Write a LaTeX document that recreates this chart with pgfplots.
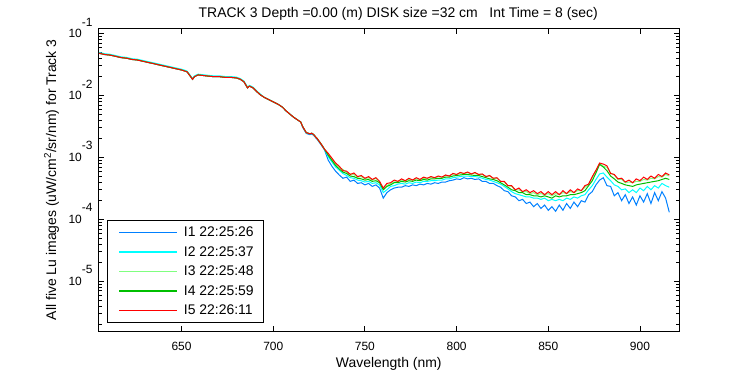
\documentclass[border=0pt]{standalone}
\usepackage{fontspec}
\setmainfont{Liberation Sans}
\usepackage{pgfplots}
\usepackage{pgfplotstable}
\pgfplotsset{compat=1.18}
\definecolor{cIa}{rgb}{0,0.5,1}
\definecolor{cIb}{rgb}{0,1,1}
\definecolor{cIc}{rgb}{0.5,1,0.5}
\definecolor{cId}{rgb}{0,0.75,0}
\definecolor{cIe}{rgb}{1,0,0}
\pgfplotstableread{
x b c lg g r
605 4.79e-2 4.93e-2 4.79e-2 4.79e-2 4.79e-2
608 4.57e-2 4.71e-2 4.57e-2 4.57e-2 4.57e-2
611 4.47e-2 4.60e-2 4.47e-2 4.47e-2 4.47e-2
614 4.27e-2 4.40e-2 4.27e-2 4.27e-2 4.27e-2
617 4.07e-2 4.19e-2 4.07e-2 4.07e-2 4.07e-2
620 3.98e-2 4.10e-2 3.98e-2 3.98e-2 3.98e-2
623 3.80e-2 3.91e-2 3.80e-2 3.80e-2 3.80e-2
626 3.72e-2 3.83e-2 3.72e-2 3.72e-2 3.72e-2
629 3.55e-2 3.66e-2 3.55e-2 3.55e-2 3.55e-2
632 3.39e-2 3.49e-2 3.39e-2 3.39e-2 3.39e-2
635 3.24e-2 3.34e-2 3.24e-2 3.24e-2 3.24e-2
638 3.09e-2 3.18e-2 3.09e-2 3.09e-2 3.09e-2
641 2.95e-2 3.04e-2 2.95e-2 2.95e-2 2.95e-2
644 2.82e-2 2.90e-2 2.82e-2 2.82e-2 2.82e-2
647 2.69e-2 2.77e-2 2.69e-2 2.69e-2 2.69e-2
650 2.57e-2 2.65e-2 2.57e-2 2.57e-2 2.57e-2
653 2.40e-2 2.47e-2 2.40e-2 2.40e-2 2.40e-2
655 2.00e-2 2.06e-2 2.00e-2 2.00e-2 2.00e-2
656 1.82e-2 1.87e-2 1.82e-2 1.82e-2 1.82e-2
657 2.00e-2 2.06e-2 2.00e-2 2.00e-2 2.00e-2
659 2.14e-2 2.20e-2 2.14e-2 2.14e-2 2.14e-2
662 2.09e-2 2.15e-2 2.09e-2 2.09e-2 2.09e-2
665 2.04e-2 2.10e-2 2.04e-2 2.04e-2 2.04e-2
668 2.00e-2 2.06e-2 2.00e-2 2.00e-2 2.00e-2
671 2.00e-2 2.06e-2 2.00e-2 2.00e-2 2.00e-2
674 1.95e-2 2.01e-2 1.95e-2 1.95e-2 1.95e-2
677 1.95e-2 2.01e-2 1.95e-2 1.95e-2 1.95e-2
680 1.91e-2 1.97e-2 1.91e-2 1.91e-2 1.91e-2
682 1.82e-2 1.87e-2 1.82e-2 1.82e-2 1.82e-2
684 1.66e-2 1.71e-2 1.66e-2 1.66e-2 1.66e-2
686 1.32e-2 1.36e-2 1.32e-2 1.32e-2 1.32e-2
687 1.41e-2 1.45e-2 1.41e-2 1.41e-2 1.41e-2
689 1.32e-2 1.36e-2 1.32e-2 1.32e-2 1.32e-2
691 1.15e-2 1.18e-2 1.15e-2 1.15e-2 1.15e-2
693 1.02e-2 1.05e-2 1.02e-2 1.02e-2 1.02e-2
695 9.33e-3 9.33e-3 9.33e-3 9.33e-3 9.33e-3
697 8.71e-3 8.71e-3 8.71e-3 8.71e-3 8.71e-3
699 8.13e-3 8.13e-3 8.13e-3 8.13e-3 8.13e-3
701 7.59e-3 7.59e-3 7.59e-3 7.59e-3 7.59e-3
703 7.08e-3 7.08e-3 7.08e-3 7.08e-3 7.08e-3
705 6.46e-3 6.46e-3 6.46e-3 6.46e-3 6.46e-3
707 5.62e-3 5.62e-3 5.62e-3 5.62e-3 5.62e-3
709 5.01e-3 5.01e-3 5.01e-3 5.01e-3 5.01e-3
711 4.47e-3 4.47e-3 4.47e-3 4.47e-3 4.47e-3
713 4.07e-3 4.07e-3 4.07e-3 4.07e-3 4.07e-3
715 3.72e-3 3.72e-3 3.72e-3 3.72e-3 3.72e-3
716 3.07e-3 3.16e-3 3.16e-3 3.16e-3 3.16e-3
718 2.43e-3 2.51e-3 2.51e-3 2.51e-3 2.51e-3
720 2.33e-3 2.40e-3 2.40e-3 2.40e-3 2.40e-3
721 2.38e-3 2.45e-3 2.45e-3 2.45e-3 2.45e-3
722 2.27e-3 2.34e-3 2.34e-3 2.34e-3 2.34e-3
724 1.94e-3 2.00e-3 2.00e-3 2.00e-3 2.00e-3
726 1.61e-3 1.66e-3 1.66e-3 1.66e-3 1.66e-3
728 1.31e-3 1.35e-3 1.35e-3 1.35e-3 1.35e-3
730 9.0e-4 10.2e-4 11.0e-4 10.8e-4 11.6e-4
732 7.2e-4 8.4e-4 9.2e-4 8.9e-4 9.7e-4
734 6.0e-4 7.0e-4 7.8e-4 7.4e-4 8.1e-4
736 5.2e-4 6.2e-4 6.9e-4 6.5e-4 7.2e-4
738 4.6e-4 5.5e-4 6.4e-4 5.8e-4 6.1e-4
740 4.8e-4 5.1e-4 5.7e-4 5.5e-4 6.0e-4
742 4.1e-4 4.7e-4 5.4e-4 5.0e-4 5.3e-4
744 4.3e-4 4.6e-4 5.3e-4 4.9e-4 5.6e-4
746 3.8e-4 4.3e-4 4.8e-4 4.6e-4 4.9e-4
748 3.9e-4 4.2e-4 4.9e-4 4.5e-4 5.1e-4
750 3.6e-4 4.0e-4 4.5e-4 4.3e-4 4.6e-4
752 3.8e-4 4.1e-4 4.7e-4 4.4e-4 4.9e-4
754 3.4e-4 3.8e-4 4.3e-4 4.1e-4 4.4e-4
756 3.6e-4 3.9e-4 4.6e-4 4.2e-4 4.7e-4
758 3.2e-4 3.6e-4 4.0e-4 3.9e-4 4.1e-4
760 2.2e-4 2.7e-4 3.1e-4 3.0e-4 3.2e-4
762 2.7e-4 3.0e-4 3.5e-4 3.4e-4 3.8e-4
764 3.0e-4 3.4e-4 3.8e-4 3.6e-4 3.9e-4
766 3.2e-4 3.5e-4 4.0e-4 3.9e-4 4.3e-4
768 3.3e-4 3.7e-4 4.1e-4 3.9e-4 4.1e-4
770 3.3e-4 3.8e-4 4.3e-4 4.1e-4 4.5e-4
772 3.5e-4 3.7e-4 4.2e-4 4.0e-4 4.2e-4
774 3.4e-4 3.9e-4 4.4e-4 4.2e-4 4.6e-4
776 3.6e-4 3.8e-4 4.3e-4 4.1e-4 4.3e-4
778 3.5e-4 4.0e-4 4.5e-4 4.3e-4 4.7e-4
780 3.7e-4 3.9e-4 4.4e-4 4.2e-4 4.4e-4
782 3.6e-4 4.1e-4 4.6e-4 4.4e-4 4.8e-4
784 3.8e-4 4.1e-4 4.6e-4 4.3e-4 4.6e-4
786 3.7e-4 4.2e-4 4.8e-4 4.5e-4 4.9e-4
788 3.9e-4 4.2e-4 4.7e-4 4.5e-4 4.7e-4
790 3.8e-4 4.3e-4 4.9e-4 4.6e-4 5.0e-4
792 4.0e-4 4.3e-4 4.8e-4 4.6e-4 4.8e-4
794 4.0e-4 4.5e-4 5.1e-4 4.8e-4 5.2e-4
796 4.2e-4 4.5e-4 5.0e-4 4.8e-4 5.0e-4
798 4.3e-4 4.7e-4 5.4e-4 5.0e-4 5.5e-4
800 4.5e-4 4.8e-4 5.3e-4 5.1e-4 5.3e-4
802 4.4e-4 4.9e-4 5.6e-4 5.2e-4 5.7e-4
804 4.7e-4 5.0e-4 5.5e-4 5.3e-4 5.5e-4
806 4.5e-4 5.0e-4 5.7e-4 5.3e-4 5.8e-4
808 4.6e-4 4.9e-4 5.4e-4 5.2e-4 5.4e-4
810 4.4e-4 4.9e-4 5.6e-4 5.1e-4 5.7e-4
812 4.5e-4 4.8e-4 5.3e-4 5.1e-4 5.3e-4
814 4.1e-4 4.6e-4 5.3e-4 4.9e-4 5.4e-4
816 4.1e-4 4.4e-4 4.9e-4 4.7e-4 4.9e-4
818 3.8e-4 4.3e-4 5.0e-4 4.5e-4 5.1e-4
820 3.8e-4 4.1e-4 4.6e-4 4.4e-4 4.6e-4
822 3.5e-4 3.9e-4 4.6e-4 4.2e-4 4.7e-4
824 3.3e-4 3.7e-4 4.1e-4 3.9e-4 4.1e-4
826 2.9e-4 3.4e-4 4.0e-4 3.6e-4 4.1e-4
828 2.8e-4 3.1e-4 3.5e-4 3.3e-4 3.5e-4
830 2.4e-4 2.8e-4 3.4e-4 3.0e-4 3.5e-4
832 2.3e-4 2.6e-4 3.0e-4 2.9e-4 3.0e-4
834 2.0e-4 2.5e-4 3.0e-4 2.7e-4 3.2e-4
836 2.1e-4 2.4e-4 2.8e-4 2.7e-4 2.8e-4
838 1.8e-4 2.3e-4 2.8e-4 2.5e-4 3.0e-4
840 1.9e-4 2.3e-4 2.6e-4 2.5e-4 2.7e-4
842 1.6e-4 2.2e-4 2.7e-4 2.4e-4 2.9e-4
844 1.8e-4 2.2e-4 2.5e-4 2.4e-4 2.6e-4
846 1.5e-4 2.1e-4 2.6e-4 2.3e-4 2.8e-4
848 1.7e-4 2.2e-4 2.5e-4 2.4e-4 2.5e-4
850 1.4e-4 2.0e-4 2.6e-4 2.3e-4 2.8e-4
852 1.6e-4 2.1e-4 2.4e-4 2.2e-4 2.5e-4
854 1.35e-4 2.0e-4 2.6e-4 2.4e-4 2.8e-4
856 1.7e-4 2.1e-4 2.5e-4 2.3e-4 2.5e-4
858 1.4e-4 2.0e-4 2.7e-4 2.4e-4 2.9e-4
860 1.8e-4 2.2e-4 2.6e-4 2.4e-4 2.6e-4
862 1.5e-4 2.1e-4 2.8e-4 2.5e-4 3.0e-4
864 1.9e-4 2.3e-4 2.7e-4 2.5e-4 2.7e-4
866 1.6e-4 2.2e-4 2.9e-4 2.6e-4 3.1e-4
868 2.0e-4 2.4e-4 2.9e-4 2.7e-4 2.9e-4
870 1.9e-4 2.5e-4 3.3e-4 2.9e-4 3.5e-4
872 2.5e-4 3.0e-4 3.7e-4 3.5e-4 3.7e-4
874 2.8e-4 3.5e-4 4.7e-4 4.2e-4 4.9e-4
876 3.6e-4 4.4e-4 6.1e-4 5.6e-4 6.2e-4
878 4.3e-4 5.4e-4 7.9e-4 7.7e-4 8.1e-4
880 4.7e-4 5.6e-4 7.2e-4 7.0e-4 7.8e-4
882 3.5e-4 4.8e-4 6.9e-4 6.1e-4 7.3e-4
884 3.4e-4 4.2e-4 5.6e-4 5.0e-4 5.5e-4
886 2.4e-4 3.6e-4 5.2e-4 4.5e-4 5.3e-4
888 2.7e-4 3.4e-4 4.4e-4 4.0e-4 4.5e-4
890 2.0e-4 3.0e-4 4.4e-4 3.8e-4 4.6e-4
892 2.5e-4 3.1e-4 3.9e-4 3.6e-4 4.0e-4
894 1.8e-4 2.7e-4 4.0e-4 3.5e-4 4.3e-4
896 2.3e-4 3.0e-4 3.9e-4 3.4e-4 3.9e-4
898 1.7e-4 2.7e-4 4.1e-4 3.6e-4 4.5e-4
900 2.4e-4 3.2e-4 4.1e-4 3.7e-4 4.2e-4
902 1.9e-4 2.9e-4 4.4e-4 3.8e-4 4.8e-4
904 2.6e-4 3.4e-4 4.3e-4 3.9e-4 4.4e-4
906 1.8e-4 3.0e-4 4.6e-4 4.0e-4 5.0e-4
908 2.7e-4 3.5e-4 4.5e-4 4.1e-4 4.6e-4
910 2.0e-4 3.2e-4 4.9e-4 4.2e-4 5.3e-4
912 2.8e-4 3.8e-4 4.8e-4 4.4e-4 4.9e-4
914 2.2e-4 3.5e-4 5.3e-4 4.6e-4 5.6e-4
916 1.3e-4 3.3e-4 5.0e-4 4.4e-4 5.2e-4
}\spec
\begin{document}
\begin{tikzpicture}
\path[use as bounding box] (-98.5bp,-44bp) rectangle (651.5bp,331bp);
\begin{axis}[
  at={(0,0)}, anchor=south west,
  scale only axis, width=580.5bp, height=302.5bp,
  xmin=604.7, xmax=921.3,
  ymode=log, ymin=1.58e-6, ymax=0.12,
  font=\fontsize{14}{16}\selectfont,
  axis line style={line width=0.9bp, black},
  tick style={line width=0.9bp, black},
  tick align=inside,
  major tick length=5bp, minor tick length=3bp,
  xtick={650,700,750,800,850,900},
  xticklabels={650,700,750,800,850,900},
  xticklabel style={font=\fontsize{12}{14}\selectfont, yshift=-7.5bp},
  ytick={1e-5,1e-4,1e-3,1e-2,1e-1},
  yticklabels={10\smash{\raisebox{11.5bp}{-5}},10\smash{\raisebox{11.5bp}{-4}},10\smash{\raisebox{11.5bp}{-3}},10\smash{\raisebox{11.5bp}{-2}},10\smash{\raisebox{11.5bp}{-1}}},
  yticklabel style={font=\fontsize{12}{14}\selectfont, xshift=-2.5bp},
  minor ytick={2e-6,3e-6,4e-6,5e-6,6e-6,7e-6,8e-6,9e-6,2e-5,3e-5,4e-5,5e-5,6e-5,7e-5,8e-5,9e-5,2e-4,3e-4,4e-4,5e-4,6e-4,7e-4,8e-4,9e-4,2e-3,3e-3,4e-3,5e-3,6e-3,7e-3,8e-3,9e-3,2e-2,3e-2,4e-2,5e-2,6e-2,7e-2,8e-2,9e-2},
  title={TRACK 3 Depth =0.00 (m) DISK size =32 cm \ \ Int Time = 8 (sec)},
  title style={at={(axis description cs:0.5,1)}, anchor=center, yshift=8.5bp, xshift=9.5bp, inner sep=0pt},
  xlabel={Wavelength (nm)},
  xlabel style={at={(axis description cs:0.5,0)}, anchor=center, yshift=-33bp, inner sep=0pt},
  ylabel={All five Lu images (uW/cm\textsuperscript{2}/sr/nm) for Track 3},
  ylabel style={at={(axis description cs:-0.081,0.5)}, anchor=center, inner sep=0pt},
  legend style={at={(0.0155,0.0264)}, anchor=south west, draw=black, line width=0.9bp,
    font=\fontsize{14}{16}\selectfont, inner xsep=6bp, inner ysep=6.5bp, row sep=8bp,
    nodes={inner xsep=4bp, inner ysep=0pt, text height=10bp, text depth=1.5bp}},
  legend cell align=left,
  legend image code/.code={\path (0bp,0bp); \draw[#1, line width=1.4bp] (5bp,0bp) -- (63bp,0bp); \path (65bp,0bp);},
  every axis plot/.append style={line width=1bp},
]
\addplot[draw=cIa] table[x=x,y=b]{\spec};
\addlegendentry{I1 22:25:26}
\addplot[draw=cIb] table[x=x,y=c]{\spec};
\addlegendentry{I2 22:25:37}
\addplot[draw=cIc] table[x=x,y=lg]{\spec};
\addlegendentry{I3 22:25:48}
\addplot[draw=cId] table[x=x,y=g]{\spec};
\addlegendentry{I4 22:25:59}
\addplot[draw=cIe] table[x=x,y=r]{\spec};
\addlegendentry{I5 22:26:11}
\end{axis}
\end{tikzpicture}
\end{document}
